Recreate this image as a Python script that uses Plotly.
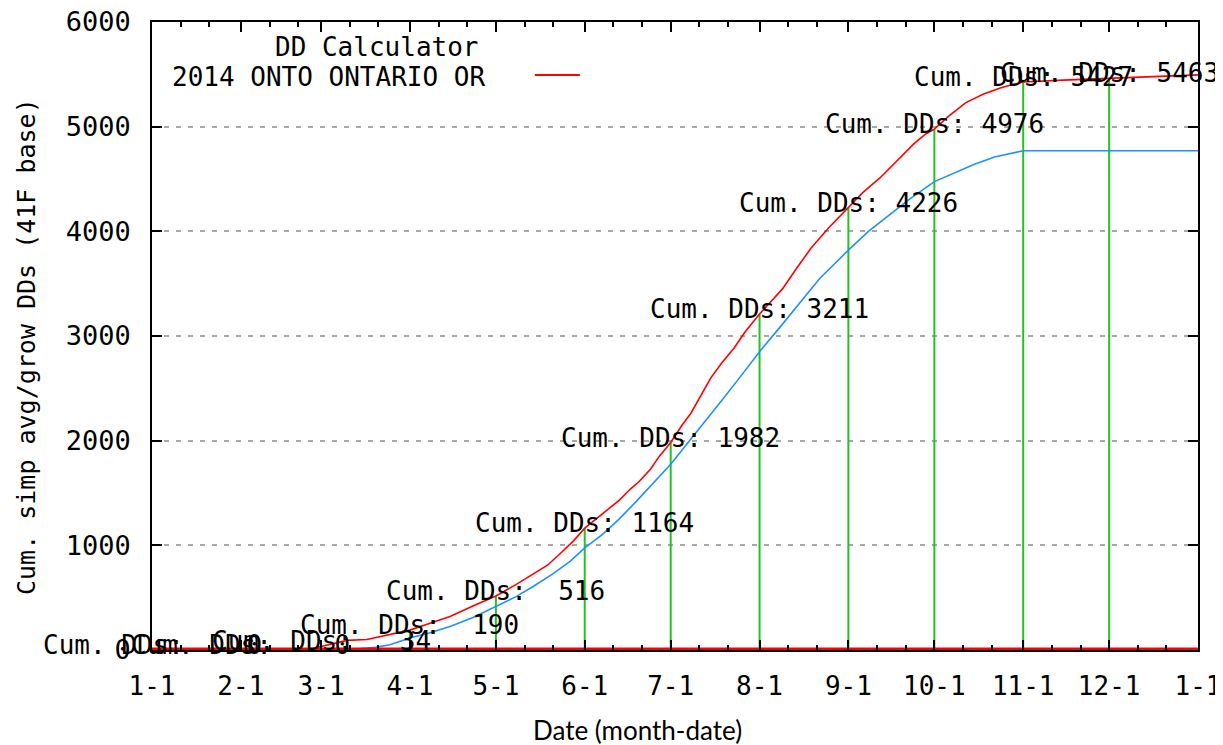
import plotly.graph_objects as go

# ---------------- data ----------------
month_dates = ["2014-01-01", "2014-02-01", "2014-03-01", "2014-04-01", "2014-05-01", "2014-06-01",
               "2014-07-01", "2014-08-01", "2014-09-01", "2014-10-01", "2014-11-01", "2014-12-01"]
month_cum_dds = [0, 0, 34, 190, 516, 1164, 1982, 3211, 4226, 4976, 5427, 5463]

tick_dates = month_dates + ["2015-01-01"]
tick_labels = ["1-1", "2-1", "3-1", "4-1", "5-1", "6-1", "7-1", "8-1", "9-1", "10-1", "11-1", "12-1", "1-1"]

minor_tick_dates = [f"2014-{m:02d}-{d}" for m in range(1, 13) for d in (11, 21)]

red_dates = ["2014-01-01", "2014-02-01", "2014-02-25", "2014-03-01", "2014-03-06", "2014-03-10",
             "2014-03-17", "2014-03-24", "2014-04-01", "2014-04-08", "2014-04-15", "2014-04-23",
             "2014-05-01", "2014-05-08", "2014-05-14", "2014-05-19", "2014-05-23", "2014-05-28",
             "2014-06-01", "2014-06-07", "2014-06-13", "2014-06-17", "2014-06-20", "2014-06-24",
             "2014-06-27", "2014-07-01", "2014-07-05", "2014-07-08", "2014-07-12", "2014-07-15",
             "2014-07-19", "2014-07-23", "2014-07-27", "2014-08-01", "2014-08-05", "2014-08-09",
             "2014-08-14", "2014-08-19", "2014-08-25", "2014-09-01", "2014-09-06", "2014-09-12",
             "2014-09-16", "2014-09-20", "2014-09-24", "2014-09-28", "2014-10-01", "2014-10-06",
             "2014-10-12", "2014-10-18", "2014-10-24", "2014-10-28", "2014-11-01", "2014-11-15",
             "2014-12-01", "2014-12-15", "2015-01-01"]
red_values = [0, 0, 8, 34, 70, 92, 100, 140, 190, 255, 320, 420,
              516, 625, 725, 810, 910, 1040,
              1164, 1300, 1430, 1540, 1610, 1730,
              1850, 1982, 2150, 2260, 2450, 2600,
              2750, 2880, 3040, 3211, 3330, 3450,
              3650, 3840, 4030, 4226, 4370, 4510,
              4620, 4730, 4840, 4930, 4976, 5100,
              5230, 5310, 5370, 5400, 5427, 5445,
              5463, 5480, 5495]

blue_dates = ["2014-01-01", "2014-03-12", "2014-03-15", "2014-03-20", "2014-03-25", "2014-04-01",
              "2014-04-08", "2014-04-15", "2014-04-23", "2014-05-01", "2014-05-08", "2014-05-14",
              "2014-05-21", "2014-05-27", "2014-06-01", "2014-06-07", "2014-06-13", "2014-06-19",
              "2014-06-25", "2014-07-01", "2014-07-07", "2014-07-13", "2014-07-19", "2014-07-25",
              "2014-08-01", "2014-08-08", "2014-08-15", "2014-08-22", "2014-09-01", "2014-09-08",
              "2014-09-15", "2014-09-22", "2014-10-01", "2014-10-08", "2014-10-15", "2014-10-22",
              "2014-11-01", "2015-01-01"]
blue_values = [0, 0, 15, 25, 50, 115,
               165, 225, 310, 415, 510, 607,
               730, 850, 975, 1100, 1250, 1420,
               1600, 1774, 1980, 2180, 2390, 2600,
               2850, 3080, 3320, 3550, 3820, 4000,
               4150, 4300, 4475, 4560, 4640, 4710,
               4770, 4770]

x_start, x_end = "2014-01-01", "2015-01-01"

legend_title = "DD Calculator"
series_name = "2014 ONTO ONTARIO OR"
y_title = "Cum. simp avg/grow DDs (41F base)"
x_title = "Date (month-date)"

# ---------------- styles ----------------
MONO = "DejaVu Sans Mono"
RED = "#ff0000"
BLUE = "#1e90ff"
GREEN = "#22c422"

fig = go.Figure()

# green impulses at month starts
gx, gy = [], []
for d, v in zip(month_dates, month_cum_dds):
    gx += [d, d, None]
    gy += [0, v, None]
fig.add_trace(go.Scatter(x=gx, y=gy, mode="lines", line=dict(color=GREEN, width=2),
                         hoverinfo="skip", showlegend=False))

fig.add_trace(go.Scatter(x=blue_dates, y=blue_values, mode="lines",
                         line=dict(color=BLUE, width=1.6), showlegend=False))
fig.add_trace(go.Scatter(x=red_dates, y=red_values, mode="lines",
                         line=dict(color=RED, width=1.6), name=series_name, showlegend=False))
fig.add_trace(go.Scatter(x=[x_start, x_end], y=[0, 0], mode="lines",
                         line=dict(color=RED, width=5), showlegend=False, hoverinfo="skip"))

# month labels
for d, v in zip(month_dates, month_cum_dds):
    txt = ("Cum. DDs: " + f"{v:4d}").replace(" ", "\u00a0")
    fig.add_annotation(x=d, y=v, xref="x", yref="y", text=txt, showarrow=False,
                       xanchor="center", yanchor="middle", yshift=5,
                       font=dict(family=MONO, size=26, color="black"))

# legend (gnuplot style key)
fig.add_annotation(x=0.215, y=0.960, xref="paper", yref="paper", text=legend_title,
                   showarrow=False, xanchor="center", yanchor="middle",
                   font=dict(family=MONO, size=26, color="black"))
fig.add_annotation(x=0.320, y=0.912, xref="paper", yref="paper", text=series_name.replace(" ", "\u00a0"),
                   showarrow=False, xanchor="right", yanchor="middle",
                   font=dict(family=MONO, size=26, color="black"))
fig.add_shape(type="line", xref="paper", yref="paper", x0=0.366, x1=0.409, y0=0.9156, y1=0.9156,
              line=dict(color=RED, width=2))

# axis titles
fig.add_annotation(x=-0.1195, y=0.4825, xref="paper", yref="paper", text=y_title.replace(" ", "\u00a0"),
                   textangle=-90, showarrow=False, xanchor="center", yanchor="middle",
                   font=dict(family=MONO, size=25, color="black"))
fig.add_annotation(x=0.464, y=-0.1274, xref="paper", yref="paper", text=x_title,
                   showarrow=False, xanchor="center", yanchor="middle",
                   font=dict(family="Lato", size=26, color="black"))

# the page body adds an 8px margin, so the figure is 8px smaller and shifted
fig.update_layout(
    width=1215, height=737,
    margin=dict(l=144, r=25, t=14, b=95, autoexpand=False),
    paper_bgcolor="white", plot_bgcolor="white",
    showlegend=False,
    xaxis=dict(type="date", range=[x_start, x_end], tickmode="array",
               tickvals=tick_dates, ticktext=tick_labels, automargin=False,
               ticklabeloverflow="allow",
               ticks="inside", ticklen=10, tickwidth=1.5, tickcolor="black",
               minor=dict(tickmode="array", tickvals=minor_tick_dates, ticks="inside",
                          ticklen=5, tickwidth=1.5, tickcolor="black"),
               showline=True, linecolor="black", linewidth=1.5, mirror="ticks",
               showgrid=False, zeroline=False, ticklabelstandoff=12,
               tickfont=dict(family=MONO, size=26, color="black")),
    yaxis=dict(range=[0, 6000], tickmode="array", tickvals=[0, 1000, 2000, 3000, 4000, 5000, 6000],
               automargin=False, ticklabeloverflow="allow",
               ticks="inside", ticklen=10, tickwidth=1.5, tickcolor="black",
               showline=True, linecolor="black", linewidth=1.5, mirror="ticks",
               showgrid=True, gridcolor="#a8a8a8", gridwidth=1.5, griddash="5px,7px",
               zeroline=False, ticklabelstandoff=14,
               tickfont=dict(family=MONO, size=27, color="black")),
)

fig.write_html("out.html")
